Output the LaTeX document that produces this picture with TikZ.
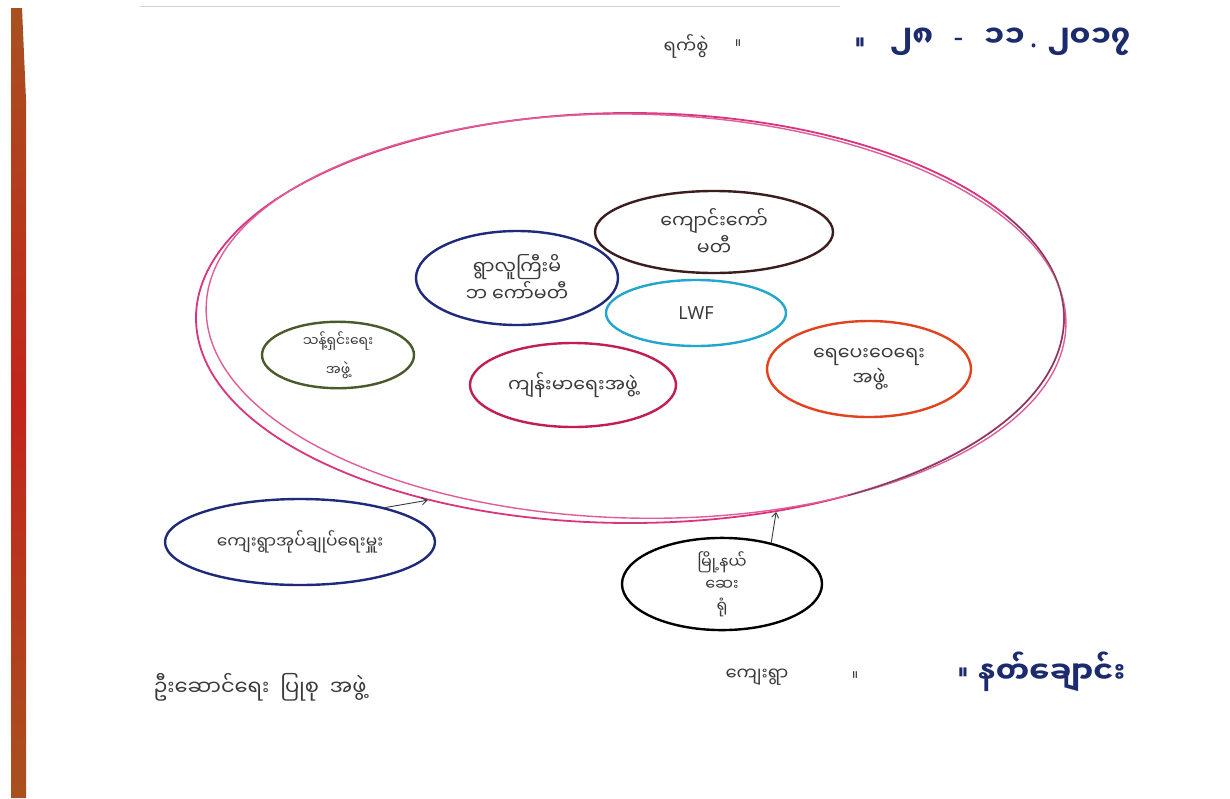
\documentclass[tikz,border=0pt]{standalone}
\usepackage{fontspec}
\newfontfamily\mm[Script=Myanmar]{Noto Sans Myanmar UI}
\newfontfamily\lat{Noto Sans}
\usetikzlibrary{shapes.geometric,arrows.meta}
\definecolor{pinkline}{HTML}{D8357E}
\definecolor{navyline}{HTML}{1F2A7A}
\definecolor{brownline}{HTML}{3A1E1E}
\definecolor{cyanline}{HTML}{22A6CC}
\definecolor{greenline}{HTML}{4A5A2A}
\definecolor{crimsonline}{HTML}{C21E56}
\definecolor{orangeline}{HTML}{E2431E}
\definecolor{ink}{HTML}{3A3A3A}
\definecolor{bluepen}{HTML}{1C2A6E}
\definecolor{stripbrown}{HTML}{A8511F}
\definecolor{stripred}{HTML}{C2241C}
\tikzset{
  bub/.style={ellipse, line width=2.4pt, inner sep=0pt, align=center, font=\mm\fontsize{19}{25}\selectfont, text=ink},
  hand/.style={font=\mm\fontsize{18}{20}\selectfont, text=ink, inner sep=0pt},
  bigpen/.style={font=\mm\fontsize{30}{32}\selectfont\bfseries, text=bluepen, inner sep=0pt},
  sepmark/.style={font=\mm\fontsize{14}{16}\selectfont, text=ink, inner sep=0pt},
  arr/.style={line width=0.9pt, draw=ink, -{Straight Barb[length=5pt,width=7pt]}}
}
\begin{document}
\begin{tikzpicture}[x=1pt,y=-1pt]
\useasboundingbox (0,0) rectangle (1230,798);
\fill[white] (0,0) rectangle (1230,798);
% paper edge strip
\shade[top color=stripbrown, bottom color=stripbrown, middle color=stripred] (11,8) -- (22,8) -- (26,100) -- (26,798) -- (11,798) -- cycle;
\draw[gray!35, line width=1pt] (140,6) -- (840,6);
% big ellipse
\node[ellipse, draw=pinkline, line width=1.8pt, minimum width=868pt, minimum height=410pt, inner sep=0pt] (area) at (630,318) {};
\draw[pinkline!80, line width=1.4pt, rotate around={-1.2:(630,318)}] (636,316) ellipse [x radius=430pt, y radius=202pt];
\draw[black!70, line width=0.8pt] (632,318) ++(30:432pt and 205pt) arc [start angle=30, end angle=-60, x radius=432pt, y radius=205pt];
% inner groups
\node[bub, draw=navyline, minimum width=202pt, minimum height=94pt] (g1) at (517,278) {ရွာလူကြီးမိ\\ဘ ကော်မတီ};
\node[bub, draw=brownline, minimum width=238pt, minimum height=82pt] (g2) at (714,232) {ကျောင်းကော်\\မတီ};
\node[bub, draw=cyanline, minimum width=180pt, minimum height=66pt, font=\lat\fontsize{18}{20}\selectfont] (g3) at (696,313) {LWF};
\node[bub, draw=greenline, minimum width=152pt, minimum height=66pt, font=\mm\fontsize{14}{29}\selectfont] (g4) at (338,355) {သန့်ရှင်းရေး\\အဖွဲ့};
\node[bub, draw=crimsonline, minimum width=206pt, minimum height=84pt] (g5) at (573,385) {ကျန်းမာရေးအဖွဲ့};
\node[bub, draw=orangeline, minimum width=204pt, minimum height=96pt] (g6) at (869,369) {ရေပေးဝေရေး\\အဖွဲ့};
% outside groups
\node[bub, draw=navyline, minimum width=270pt, minimum height=86pt, font=\mm\fontsize{17}{20}\selectfont] (g7) at (300,542) {ကျေးရွာအုပ်ချုပ်ရေးမှူး};
\node[bub, draw=black, minimum width=200pt, minimum height=92pt, font=\mm\fontsize{16}{22}\selectfont] (g8) at (722,584) {မြို့နယ်\\ဆေး\\ရုံ};
% arrows
\draw[arr] (g7.22) -- (area.222);
\draw[arr] (g8.40) -- (area.307);
% header and footer
\node[hand] (h1) at (686,46) {ရက်စွဲ};
\node[sepmark] (h1b) at (738,44) {။};
\node[sepmark, font=\mm\fontsize{18}{20}\selectfont\bfseries, text=bluepen] (h2) at (860,44) {။};
\node[bigpen, anchor=west] (h3) at (890,42) {၂၈ \ {\lat\,-\,} \ ၁၁{\lat\,.\,}\,၂၀၁၇};
\node[hand] (f1) at (757,677) {ကျေးရွာ};
\node[sepmark] (f1b) at (855,676) {။};
\node[sepmark, font=\mm\fontsize{18}{20}\selectfont\bfseries, text=bluepen] (f2) at (963,674) {။};
\node[bigpen, anchor=west] (f3) at (978,672) {နတ်ချောင်း};
\node[hand, font=\mm\fontsize{21}{24}\selectfont] (f4) at (260,687) {ဦးဆောင်ရေး \ ပြုစု \ အဖွဲ့};
\end{tikzpicture}
\end{document}
